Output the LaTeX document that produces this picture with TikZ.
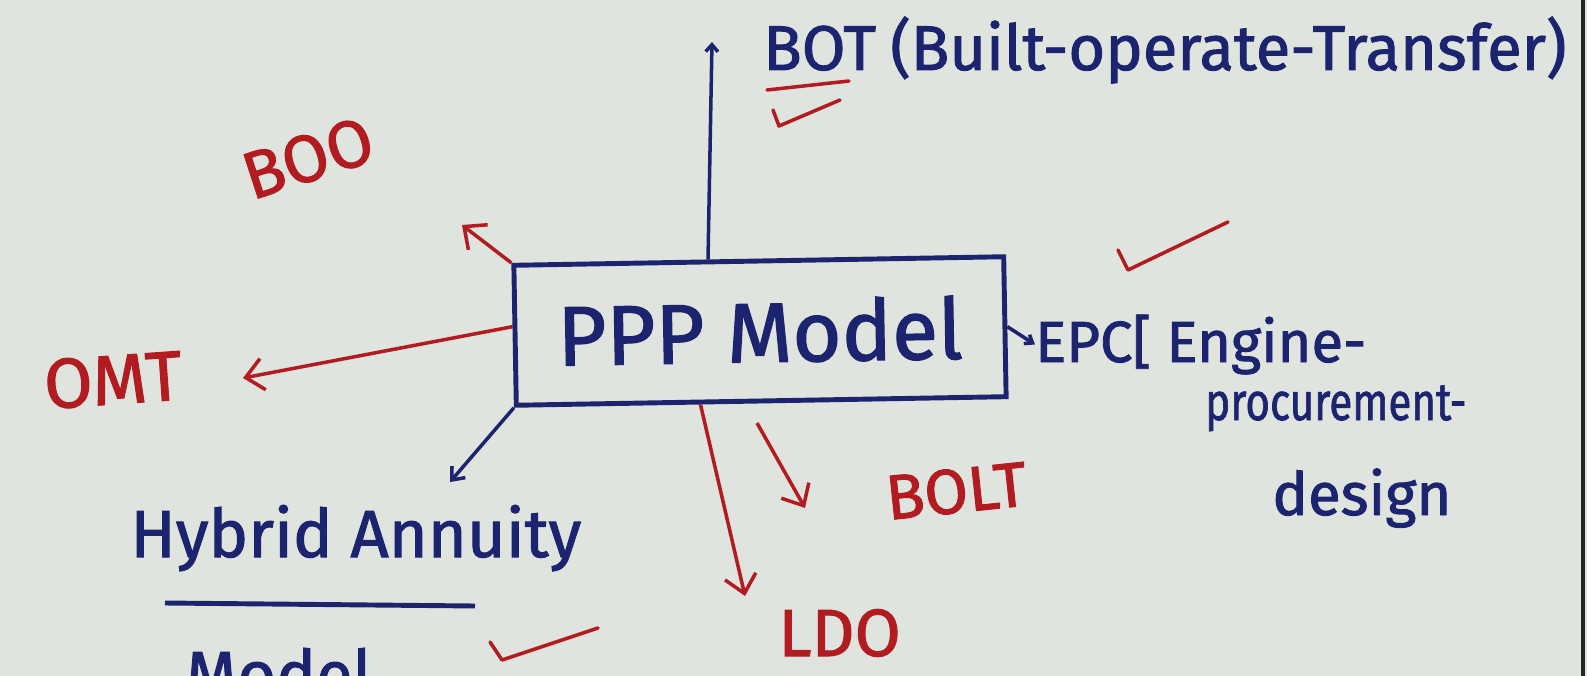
\documentclass[tikz,border=0pt]{standalone}
\usepackage{fontspec}
\setmainfont{Fira Sans}[FakeBold=1.5]
\usetikzlibrary{arrows.meta,calc,positioning}
\definecolor{paper}{RGB}{224,228,223}
\definecolor{inkblue}{RGB}{28,36,112}
\definecolor{inkred}{RGB}{178,28,32}
\newcommand{\handsize}[1]{\fontsize{#1}{#1}\selectfont}

\tikzset{
    bluetext/.style={text=inkblue, inner sep=0pt},
    redtext/.style={text=inkred, inner sep=0pt},
    bluearrow/.style={draw=inkblue, line width=2pt, -{Straight Barb[length=6pt,width=10pt]}},
    redarrow/.style={draw=inkred, line width=2pt, -{Straight Barb[length=10pt,width=18pt]}},
    tickmark/.style={draw=inkred, line width=2pt, line cap=round, line join=round},
}

\begin{document}
\begin{tikzpicture}[x=0.02cm, y=-0.02cm]
    % Paper
    \useasboundingbox (0,0) rectangle (1587,676);
    \clip (0,0) rectangle (1587,676);
    \fill[paper] (0,0) rectangle (1587,676);
    \draw[line width=2pt, black!85] (1583,0) -- (1583,676);

    % Central box
    \node[draw=inkblue, line width=2.8pt, text=inkblue, minimum width=9.8cm, minimum height=2.8cm,
        rotate=1, font=\handsize{48}] (ppp) at (760,331) {PPP Model};

    % Labels
    \node[bluetext, anchor=base west, font=\handsize{36}] (bot) at (763,70) {BOT};
    \node[bluetext, anchor=base west, font=\handsize{36}] (botdef) at (890,70) {(Built-operate-Transfer)};
    \node[redtext, rotate=18, font=\handsize{38}] (boo) at (308,158) {BOO};
    \node[redtext, rotate=4, font=\handsize{40}] (omt) at (113,380) {OMT};
    \node[bluetext, anchor=base west, font=\handsize{38}] (hybrid) at (130,557) {Hybrid Annuity};
    \node[bluetext, anchor=base west, font=\handsize{38}] (model) at (185,698) {Model};
    \node[redtext, anchor=base west, font=\handsize{38}] (ldo) at (778,656) {LDO};
    \node[redtext, rotate=6, anchor=base west, font=\handsize{36}] (bolt) at (888,520) {BOLT};
    \node[bluetext, anchor=base west, font=\handsize{33}] (epc) at (1035,362) {EPC[ Engine-};
    \node[bluetext, anchor=base west, font=\handsize{30}, xscale=0.8] (proc) at (1205,420) {procurement-};
    \node[bluetext, anchor=base west, font=\handsize{34}] (design) at (1272,515) {design};

    % Arrow ends
    \coordinate (botTip) at (712,42);
    \coordinate (booTip) at (462,225);
    \coordinate (omtTip) at (243,378);
    \coordinate (hybTip) at (450,482);
    \coordinate (ldoTip) at (745,596);
    \coordinate (boltTail) at (757,423);
    \coordinate (boltTip) at (805,508);

    % Connectors
    \draw[bluearrow, -{Straight Barb[length=4pt,width=7pt]}] (ppp.125) -- (botTip);
    \draw[redarrow] (ppp.north west) -- (booTip);
    \draw[redarrow] (ppp.178) -- (omtTip);
    \draw[bluearrow] (ppp.south west) -- (hybTip);
    \draw[redarrow] (ppp.-130) -- (ldoTip);
    \draw[redarrow] (boltTail) -- (boltTip);
    \draw[bluearrow, -{Straight Barb[length=4pt,width=6pt]}] (ppp.east) -- (epc.west);

    % Underlines and ticks
    \draw[tickmark] (767,90) -- (849,81);
    \draw[tickmark] (773,110) -- (779,126) -- (840,100);
    \draw[tickmark] (1118,250) -- (1128,270) -- (1228,222);
    \draw[inkblue, line width=2.8pt] (165,603) -- (475,606);
    \draw[tickmark] (490,642) -- (502,660) -- (598,628);
\end{tikzpicture}
\end{document}
